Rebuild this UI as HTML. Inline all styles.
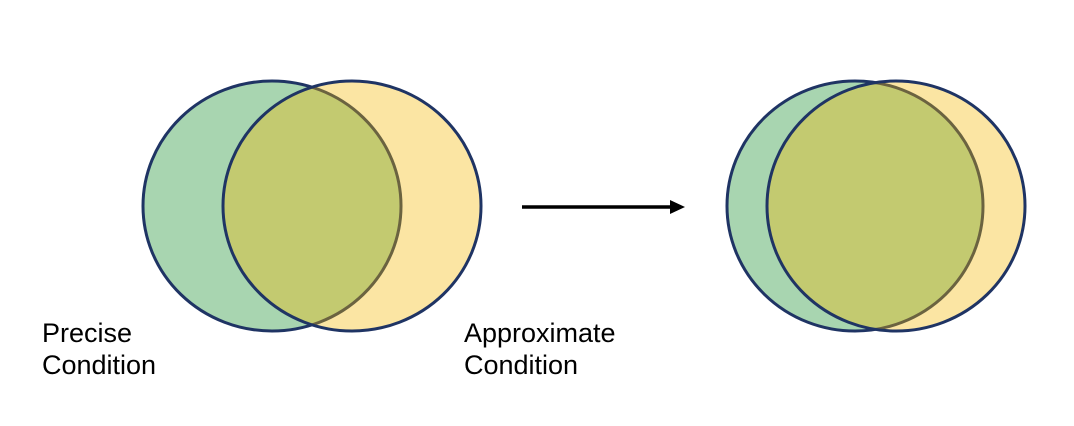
<!DOCTYPE html>
<html><head><style>
html,body{margin:0;padding:0;background:#fff;}
body{width:1074px;height:426px;overflow:hidden;position:relative;font-family:"Liberation Sans",Arial,sans-serif;}
.t{position:absolute;font-size:27px;line-height:32px;color:#000;}
</style></head><body>
<svg width="1074" height="426" style="position:absolute;left:0;top:0">
  <ellipse cx="272" cy="206" rx="129" ry="125" fill="#a8d5b0" stroke="#1f3464" stroke-width="3"/>
  <ellipse cx="352" cy="206" rx="129" ry="125" fill="#f5b800" fill-opacity="0.36" stroke="none"/>
  <ellipse cx="352" cy="206" rx="129" ry="125" fill="none" stroke="#1f3464" stroke-width="3"/>
  <ellipse cx="855" cy="206" rx="128" ry="125" fill="#a8d5b0" stroke="#1f3464" stroke-width="3"/>
  <ellipse cx="896" cy="206" rx="129" ry="125" fill="#f5b800" fill-opacity="0.36" stroke="none"/>
  <ellipse cx="896" cy="206" rx="129" ry="125" fill="none" stroke="#1f3464" stroke-width="3"/>
  <line x1="522" y1="207" x2="672" y2="207" stroke="#000" stroke-width="3.5"/>
  <polygon points="670,200 685,207 670,214" fill="#000"/>
</svg>
<div class="t" style="left:42px;top:317px">Precise<br>Condition</div>
<div class="t" style="left:464px;top:317px">Approximate<br>Condition</div>
</body></html>
